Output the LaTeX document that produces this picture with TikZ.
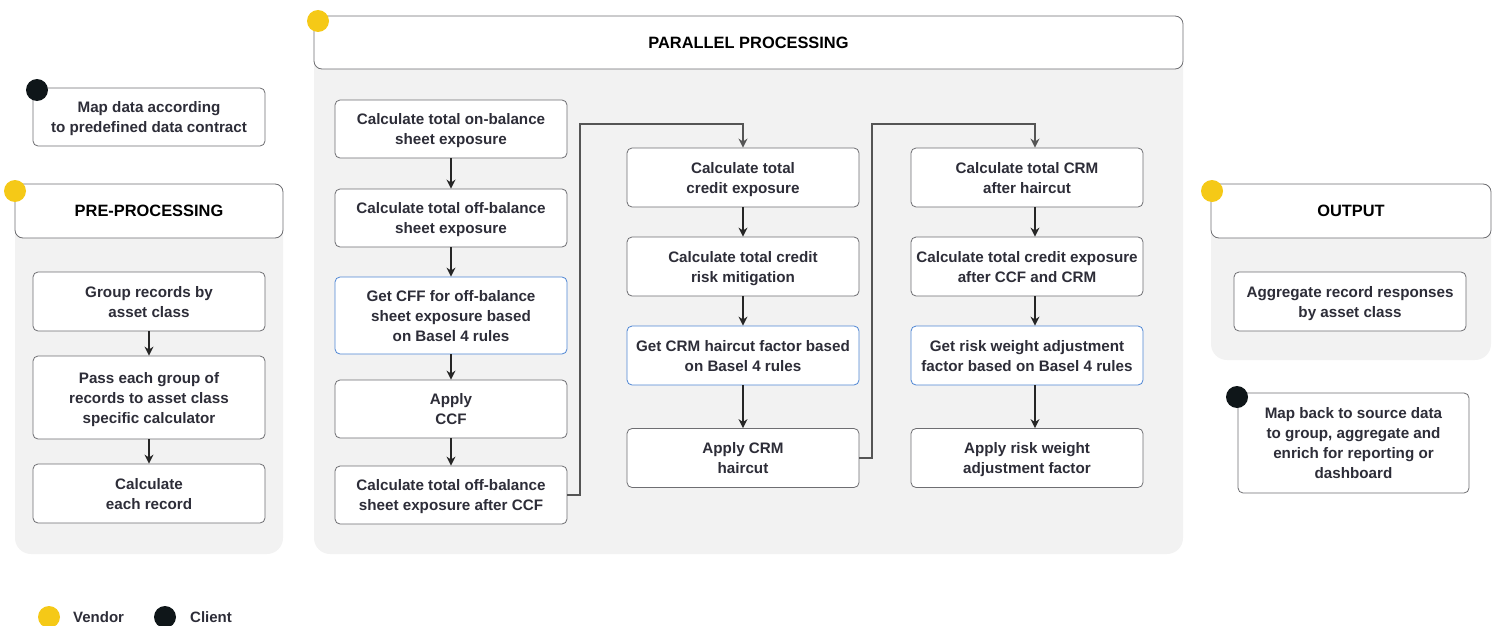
\documentclass[tikz,border=0pt]{standalone}
\usepackage{fontspec}
\setmainfont{Liberation Sans}
\usetikzlibrary{arrows.meta}
\definecolor{panelgray}{HTML}{F2F2F2}
\definecolor{boxgray}{HTML}{6E6E72}
\definecolor{txt}{HTML}{2D2D38}
\definecolor{bluebd}{HTML}{4F86D4}
\definecolor{vendor}{HTML}{F5C917}
\definecolor{client}{HTML}{0F1619}
\definecolor{linegray}{HTML}{555555}
\tikzset{
  box/.style={draw=boxgray, fill=white, rounded corners=5pt, line width=0.8pt, align=center,
    font=\fontsize{15.2}{20}\selectfont\bfseries, text=txt, minimum width=232pt, minimum height=59pt,
    inner xsep=0pt, inner ysep=0pt, text depth=0pt},
  bluebox/.style={box, draw=bluebd},
  header/.style={draw=boxgray, fill=white, rounded corners=8pt, line width=0.8pt,
    font=\fontsize{16.4}{20}\selectfont\bfseries, text=black, minimum height=54pt, inner sep=0pt},
  vdot/.style={circle, fill=vendor, minimum size=22pt, inner sep=0pt},
  cdot/.style={circle, fill=client, minimum size=22pt, inner sep=0pt},
  arr/.style={draw=black!85, line width=1.3pt, -{Stealth[length=9pt,width=9pt]}},
  conn/.style={draw=linegray, line width=1.3pt, -{Stealth[length=9pt,width=9pt]}},
  legend/.style={font=\fontsize{15}{18}\selectfont\bfseries, text=txt, anchor=west, inner sep=0pt}
}
\begin{document}
\begin{tikzpicture}[x=1pt,y=-1pt]
\useasboundingbox (0,0) rectangle (1496,626);
% panels
\fill[panelgray, rounded corners=16pt] (15,212) rectangle (283,554);
\fill[panelgray, rounded corners=16pt] (314,40) rectangle (1183,554);
\fill[panelgray, rounded corners=16pt] (1211,212) rectangle (1491,360);
% headers
\node[header, minimum width=268pt] (preh) at (149,211) {PRE-PROCESSING};
\node[header, minimum width=869pt, minimum height=53pt] (parh) at (748.5,42.5) {PARALLEL PROCESSING};
\node[header, minimum width=280pt] (outh) at (1351,211) {OUTPUT};
% client box top-left
\node[box, minimum height=58pt] (map) at (149,117) {Map data according\\to predefined data contract};
% pre-processing
\node[box] (grp) at (149,301.5) {Group records by\\asset class};
\node[box, minimum height=83pt] (pass) at (149,397.5) {Pass each group of\\records to asset class\\specific calculator};
\node[box] (each) at (149,493.5) {Calculate\\each record};
\draw[arr] (grp) -- (pass);
\draw[arr] (pass) -- (each);
% column 1
\node[box, minimum height=58pt] (a1) at (451,129) {Calculate total on-balance\\sheet exposure};
\node[box, minimum height=58pt] (a2) at (451,218) {Calculate total off-balance\\sheet exposure};
\node[bluebox, minimum height=77pt] (a3) at (451,315.5) {Get CFF for off-balance\\sheet exposure based\\on Basel 4 rules};
\node[box, minimum height=58pt] (a4) at (451,409) {Apply\\CCF};
\node[box, minimum height=58pt] (a5) at (451,495) {Calculate total off-balance\\sheet exposure after CCF};
\draw[arr] (a1) -- (a2);
\draw[arr] (a2) -- (a3);
\draw[arr] (a3) -- (a4);
\draw[arr] (a4) -- (a5);
% column 2
\node[box] (b1) at (743,177.5) {Calculate total\\credit exposure};
\node[box] (b2) at (743,266.5) {Calculate total credit\\risk mitigation};
\node[bluebox] (b3) at (743,355.5) {Get CRM haircut factor based\\on Basel 4 rules};
\node[box] (b4) at (743,458) {Apply CRM\\haircut};
\draw[arr] (b1) -- (b2);
\draw[arr] (b2) -- (b3);
\draw[arr] (b3) -- (b4);
% column 3
\node[box] (c1) at (1027,177.5) {Calculate total CRM\\after haircut};
\node[box] (c2) at (1027,266.5) {Calculate total credit exposure\\after CCF and CRM};
\node[bluebox] (c3) at (1027,355.5) {Get risk weight adjustment\\factor based on Basel 4 rules};
\node[box] (c4) at (1027,458) {Apply risk weight\\adjustment factor};
\draw[arr] ([xshift=8pt]c1.south) -- ([xshift=8pt]c2.north);
\draw[arr] ([xshift=8pt]c2.south) -- ([xshift=8pt]c3.north);
\draw[arr] ([xshift=8pt]c3.south) -- ([xshift=8pt]c4.north);
% connectors between columns
\coordinate (j1) at (580,124);
\coordinate (j2) at (872,124);
\draw[conn] (a5.east) -| (j1) -| (b1.north);
\draw[conn] (b4.east) -| (j2) -| ([xshift=8pt]c1.north);
% output
\node[box] (agg) at (1350,301.5) {Aggregate record responses\\by asset class};
\node[box, minimum width=231pt, minimum height=100pt] (mapb) at (1353.5,443) {Map back to source data\\to group, aggregate and\\enrich for reporting or\\dashboard};
% dots
\node[cdot] (d1) at (37,90) {};
\node[vdot] (d2) at (15,191) {};
\node[vdot] (d3) at (318,21) {};
\node[vdot] (d4) at (1212,191) {};
\node[cdot] (d5) at (1237,397) {};
% legend
\node[vdot] (lv) at (49,617) {};
\node[legend] (lvt) at (73,617) {Vendor};
\node[cdot] (lc) at (165,617) {};
\node[legend] (lct) at (190,617) {Client};
\end{tikzpicture}
\end{document}
